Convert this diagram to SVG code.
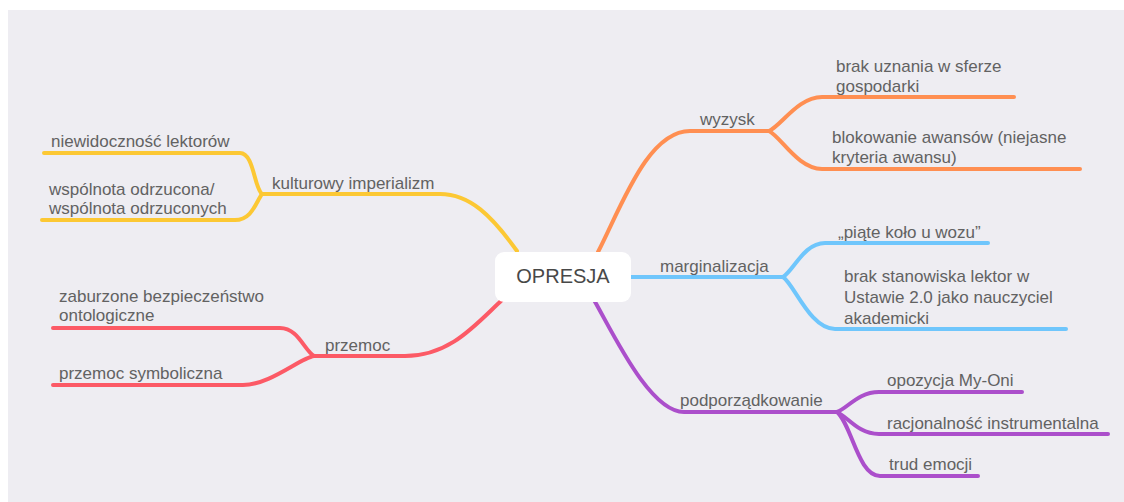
<svg xmlns="http://www.w3.org/2000/svg" width="1124" height="502" viewBox="0 0 1124 502">
<style>
.t{font-family:"Liberation Sans",Arial,sans-serif;font-size:17px;fill:#626262}
.c{font-family:"Liberation Sans",Arial,sans-serif;font-size:20px;fill:#484848}
.l{fill:none;stroke-width:4;stroke-linecap:round;stroke-linejoin:round}
.y{stroke:#fcc834}.o{stroke:#ff8f52}.b{stroke:#6fc6fc}.p{stroke:#ab4fcb}.r{stroke:#fc5a66}
</style>
<rect x="0" y="0" width="1124" height="502" fill="#ffffff"/>
<rect x="8" y="10" width="1116" height="492" fill="#eeedf2"/>
<g id="connectors">
<path class="l y" d="M517,251 C492,216 470,194 440,194 L262,194"/>
<path class="l y" d="M262,194 C254,188 254,153 240,153 L44,153"/>
<path class="l y" d="M262,194 C256,202 252,220 235,220 L42,220"/>
<path class="l o" d="M598,252 C622,205 648,131 690,131 L769,131"/>
<path class="l o" d="M769,131 C781,126 798,97 822,97 L1014,97"/>
<path class="l o" d="M769,131 C781,137 798,169 822,169 L1080,169"/>
<path class="l b" d="M631,277 L783,277"/>
<path class="l b" d="M783,277 C794,270 804,243 825,243 L988,243"/>
<path class="l b" d="M783,277 C794,284 810,329 835,329 L1066,329"/>
<path class="l p" d="M594,300 C614,335 650,412 684,412 L837,412"/>
<path class="l p" d="M837,412 C848,408 858,392 879,392 L1022,392"/>
<path class="l p" d="M837,412 C848,417 858,434 879,434 L1108,434"/>
<path class="l p" d="M837,412 C852,425 858,476 880,476 L978,476"/>
<path class="l r" d="M502,300 C475,325 450,356 405,356 L314,356"/>
<path class="l r" d="M314,356 C304,350 298,328 280,328 L53,328"/>
<path class="l r" d="M314,356 C300,358 270,385 243,385 L53,385"/>
</g>
<g id="root">
<rect x="495" y="252" width="136" height="50" rx="9" fill="#ffffff"/>
<text class="c" x="563" y="283" text-anchor="middle">OPRESJA</text>
</g>
<g id="kulturowy"><text class="t" x="272" y="189">kulturowy imperializm</text></g>
<g id="niewidocznosc"><text class="t" x="51" y="147">niewidoczność lektorów</text></g>
<g id="wspolnota"><text class="t" x="49" y="195">wspólnota odrzucona/</text><text class="t" x="49" y="214">wspólnota odrzuconych</text></g>
<g id="wyzysk"><text class="t" x="700" y="125">wyzysk</text></g>
<g id="brak-uznania"><text class="t" x="836" y="72">brak uznania w sferze</text><text class="t" x="836" y="92">gospodarki</text></g>
<g id="blokowanie"><text class="t" x="832" y="143">blokowanie awansów (niejasne</text><text class="t" x="832" y="163">kryteria awansu)</text></g>
<g id="marginalizacja"><text class="t" x="660" y="272">marginalizacja</text></g>
<g id="piate-kolo"><text class="t" x="838" y="238">„piąte koło u wozu”</text></g>
<g id="brak-stanowiska"><text class="t" x="844" y="282">brak stanowiska lektor w</text><text class="t" x="844" y="303">Ustawie 2.0 jako nauczyciel</text><text class="t" x="844" y="324">akademicki</text></g>
<g id="podporzadkowanie"><text class="t" x="680" y="406">podporządkowanie</text></g>
<g id="opozycja"><text class="t" x="887" y="386">opozycja My-Oni</text></g>
<g id="racjonalnosc"><text class="t" x="887" y="429">racjonalność instrumentalna</text></g>
<g id="trud"><text class="t" x="889" y="470">trud emocji</text></g>
<g id="przemoc"><text class="t" x="325" y="351">przemoc</text></g>
<g id="zaburzone"><text class="t" x="59" y="302">zaburzone bezpieczeństwo</text><text class="t" x="59" y="321">ontologiczne</text></g>
<g id="symboliczna"><text class="t" x="59" y="379">przemoc symboliczna</text></g>
</svg>
